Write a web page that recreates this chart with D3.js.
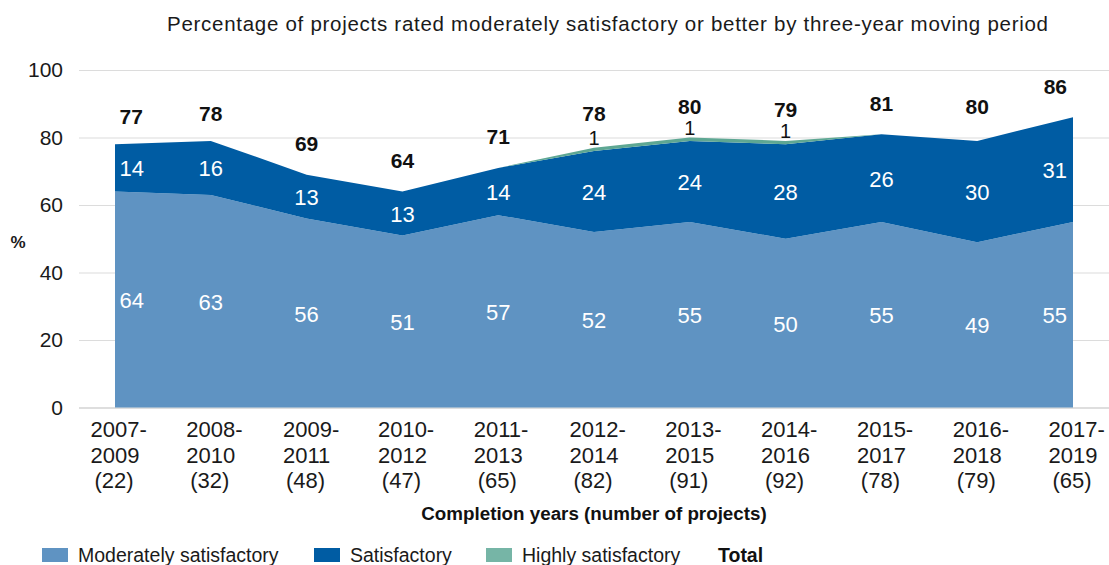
<!DOCTYPE html>
<html>
<head>
<meta charset="utf-8">
<script src="https://cdn.jsdelivr.net/npm/d3@7"></script>
<style>
  html, body { margin: 0; padding: 0; background: #fff; }
  svg { display: block; font-family: "Liberation Sans", Arial, Helvetica, sans-serif; }
</style>
</head>
<body>
<svg id="chart" width="1109" height="565"></svg>
<script>
// Three-year moving periods and number of completed projects
const periods = ["2007-2009", "2008-2010", "2009-2011", "2010-2012", "2011-2013", "2012-2014",
                 "2013-2015", "2014-2016", "2015-2017", "2016-2018", "2017-2019"];
const projectCounts = [22, 32, 48, 47, 65, 82, 91, 92, 78, 79, 65];

// Share of projects by rating (%)
const moderatelySatisfactory = [64, 63, 56, 51, 57, 52, 55, 50, 55, 49, 55];
const satisfactory           = [14, 16, 13, 13, 14, 24, 24, 28, 26, 30, 31];
const highlySatisfactory     = [0, 0, 0, 0, 0, 1, 1, 1, 0, 0, 0];
const totals                 = [77, 78, 69, 64, 71, 78, 80, 79, 81, 80, 86];

const yTicks = [0, 20, 40, 60, 80, 100];

const seriesInfo = [
  { key: "ms", name: "Moderately satisfactory", color: "#5f93c2", legendColor: "#5f93c2", labelColor: "#fff" },
  { key: "s",  name: "Satisfactory",            color: "#005ca3", legendColor: "#005ca3", labelColor: "#fff" },
  { key: "hs", name: "Highly satisfactory",     color: "#5ea793", legendColor: "#76b5a6", labelColor: "#111" }
];

const rows = periods.map((p, i) => ({
  period: p,
  ms: moderatelySatisfactory[i],
  s: satisfactory[i],
  hs: highlySatisfactory[i],
  total: totals[i],
  n: projectCounts[i]
}));

const svg = d3.select("#chart");
const x = d3.scalePoint().domain(periods).range([115, 1073]);
const y = d3.scaleLinear().domain([0, 100]).range([407.5, 70]);

// Title
svg.append("text")
  .attr("x", 167).attr("y", 31)
  .attr("font-size", 20.5)
  .attr("fill", "#1a1a1a")
  .attr("textLength", 881)
  .attr("lengthAdjust", "spacing")
  .text("Percentage of projects rated moderately satisfactory or better by three-year moving period");

// Gridlines and y tick labels
const yAxis = svg.append("g")
  .attr("transform", "translate(79,0)")
  .call(d3.axisLeft(y).tickValues(yTicks).tickSizeInner(-(1109 - 79)).tickSizeOuter(0).tickPadding(16));
yAxis.select(".domain").remove();
yAxis.selectAll(".tick line")
  .attr("stroke", d => d === 0 ? "#bdbdbd" : "#dcdcdc")
  .attr("stroke-width", 1.2);
yAxis.selectAll(".tick text")
  .attr("font-size", 21)
  .attr("font-family", "Liberation Sans, Arial, sans-serif")
  .attr("fill", "#1a1a1a");

svg.append("text")
  .attr("x", 18).attr("y", 248)
  .attr("text-anchor", "middle")
  .attr("font-size", 17)
  .attr("font-weight", "bold")
  .attr("fill", "#1a1a1a")
  .text("%");

// Stacked areas
const stack = d3.stack().keys(seriesInfo.map(s => s.key));
const layers = stack(rows);
const area = d3.area()
  .x(d => x(d.data.period))
  .y0(d => y(d[0]))
  .y1(d => y(d[1]));

svg.append("g").selectAll("path")
  .data(layers)
  .join("path")
  .attr("d", area)
  .attr("fill", (d, i) => seriesInfo[i].color);

// Horizontal placement of labels: first and last kept inside the plot
function labelX(i) { return x(periods[i]) + (i === 0 ? 4.5 : i === periods.length - 1 ? -6 : 0); }
function labelAnchor(i) { return i === 0 ? "start" : i === periods.length - 1 ? "end" : "middle"; }

// Segment value labels
const segLabels = svg.append("g");
layers.forEach((layer, li) => {
  layer.forEach((d, i) => {
    const v = d[1] - d[0];
    if (v <= 0) return;
    const isHS = seriesInfo[li].key === "hs";
    segLabels.append("text")
      .attr("x", labelX(i))
      .attr("y", isHS ? y(d[1]) - 3 : y((d[0] + d[1]) / 2) + 8.5)
      .attr("text-anchor", labelAnchor(i))
      .attr("font-size", isHS ? 20 : 22)
      .attr("fill", seriesInfo[li].labelColor)
      .text(v);
  });
});

// Total labels
svg.append("g").selectAll("text")
  .data(rows)
  .join("text")
  .attr("x", (d, i) => labelX(i))
  .attr("y", d => y(d.total) - 23.5)
  .attr("text-anchor", (d, i) => labelAnchor(i))
  .attr("font-size", 21)
  .attr("font-weight", "bold")
  .attr("fill", "#111")
  .text(d => d.total);

// Category labels (three lines)
const cat = svg.append("g").attr("fill", "#1a1a1a").attr("font-size", 22);
rows.forEach((d, i) => {
  const cx = x(d.period);
  const [a, b] = d.period.split("-");
  const l2 = cat.append("text").attr("x", cx).attr("y", 463).attr("text-anchor", "middle").text(b);
  const left = l2.node().getBBox().x;
  cat.append("text").attr("x", left).attr("y", 437).attr("text-anchor", "start").text(a + "-");
  cat.append("text").attr("x", cx - 1).attr("y", 488).attr("text-anchor", "middle").text("(" + d.n + ")");
});

svg.append("text")
  .attr("x", 594).attr("y", 520)
  .attr("text-anchor", "middle")
  .attr("font-size", 18.8)
  .attr("font-weight", "bold")
  .attr("fill", "#111")
  .text("Completion years (number of projects)");

// Legend
const legendPos = [42, 314, 486];
const legend = svg.append("g");
seriesInfo.forEach((s, i) => {
  legend.append("rect")
    .attr("x", legendPos[i]).attr("y", 548)
    .attr("width", 26).attr("height", 14)
    .attr("fill", s.legendColor);
  legend.append("text")
    .attr("x", legendPos[i] + 36).attr("y", 562)
    .attr("font-size", 19.5)
    .attr("fill", "#1a1a1a")
    .text(s.name);
});
legend.append("text")
  .attr("x", 718).attr("y", 562)
  .attr("font-size", 19.5)
  .attr("font-weight", "bold")
  .attr("fill", "#111")
  .text("Total");
</script>
</body>
</html>
